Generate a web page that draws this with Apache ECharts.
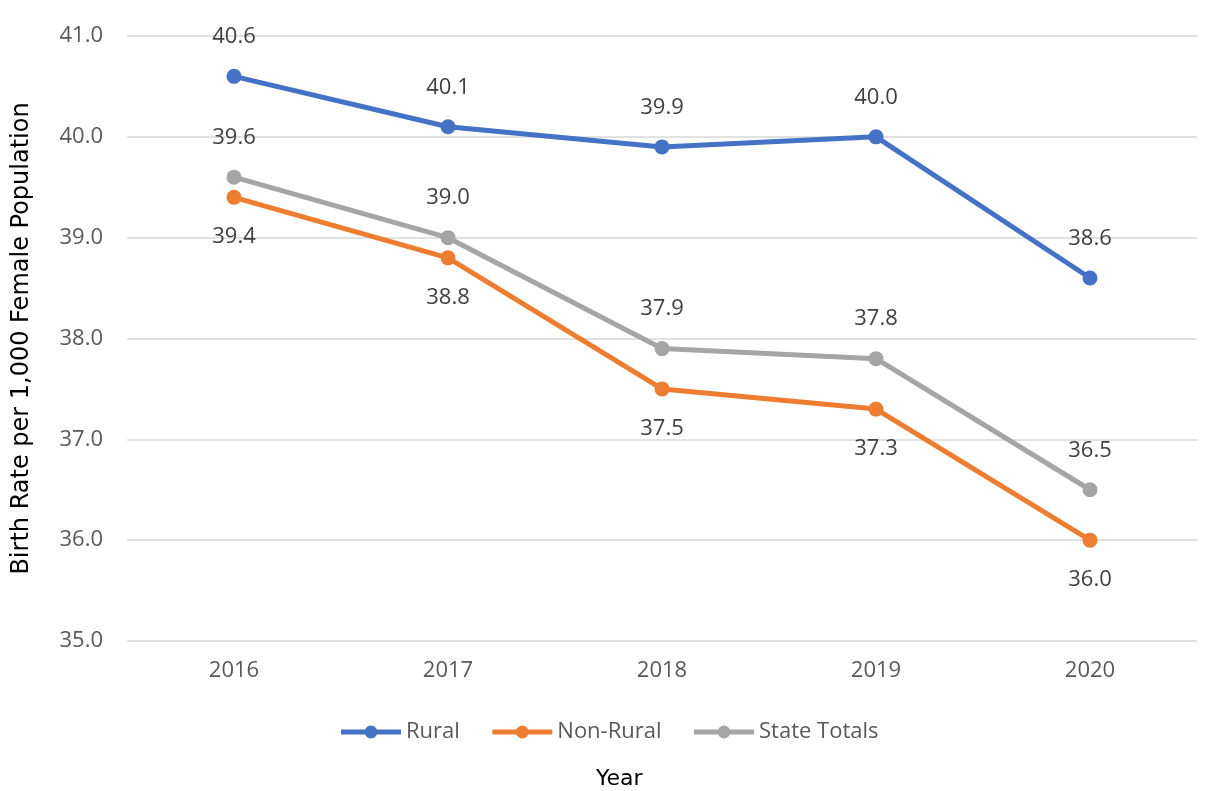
<!DOCTYPE html>
<html>
<head>
<meta charset="utf-8">
<script src="https://cdn.jsdelivr.net/npm/echarts@6/dist/echarts.min.js"></script>
<style>
    html, body { margin: 0; padding: 0; background: #fff; }
    #main { width: 1217px; height: 791px; }
</style>
</head>
<body>
<div id="main"></div>
<script>
    // data
    var years = ['2016', '2017', '2018', '2019', '2020'];
    var rural = [40.6, 40.1, 39.9, 40.0, 38.6];
    var nonRural = [39.4, 38.8, 37.5, 37.3, 36.0];
    var stateTotals = [39.6, 39.0, 37.9, 37.8, 36.5];

    var myChart = echarts.init(document.getElementById('main'));

    function lineSeries(name, data, color, pos) {
        return {
            name: name,
            type: 'line',
            data: data,
            symbol: 'circle',
            symbolSize: 15,
            lineStyle: { width: 5, color: color },
            itemStyle: { color: color },
            label: {
                show: true,
                position: pos,
                distance: 21,
                color: '#404040',
                fontSize: 22,
                fontFamily: 'Open Sans',
                formatter: function (p) { return p.value.toFixed(1); }
            }
        };
    }

    var option = {
        animation: false,
        grid: { left: 127, right: 20, top: 36, bottom: 150, outerBoundsMode: 'none' },
        // x axis title sits centred on the whole chart, not on the plot
        title: {
            text: 'Year',
            left: 596,
            top: 768,
            padding: 0,
            textStyle: { color: '#000', fontSize: 22, fontWeight: 'normal', fontFamily: 'DejaVu Sans' }
        },
        legend: {
            bottom: 43,
            left: 'center',
            itemWidth: 60,
            itemHeight: 16,
            itemGap: 30,
            lineStyle: { width: 5 },
            textStyle: { color: '#595959', fontSize: 22, fontFamily: 'Open Sans' },
            data: ['Rural', 'Non-Rural', 'State Totals']
        },
        xAxis: {
            type: 'category',
            data: years,
            axisLine: { show: false },
            axisTick: { show: false },
            axisLabel: { color: '#595959', fontSize: 22, fontFamily: 'Open Sans', margin: 19 }
        },
        yAxis: {
            type: 'value',
            min: 35,
            max: 41,
            interval: 1,
            name: 'Birth Rate per 1,000 Female Population',
            nameLocation: 'middle',
            nameGap: 93,
            nameTextStyle: { color: '#000', fontSize: 24, fontFamily: 'DejaVu Sans' },
            axisLabel: {
                color: '#595959', fontSize: 22, fontFamily: 'Open Sans', margin: 24,
                formatter: function (v) { return v.toFixed(1); }
            },
            splitLine: { lineStyle: { color: '#d9d9d9', width: 1.5 } }
        },
        series: [
            lineSeries('Rural', rural, '#4472C4', 'top'),
            lineSeries('Non-Rural', nonRural, '#ED7D31', 'bottom'),
            lineSeries('State Totals', stateTotals, '#A5A5A5', 'top')
        ]
    };

    myChart.setOption(option);
</script>
</body>
</html>
